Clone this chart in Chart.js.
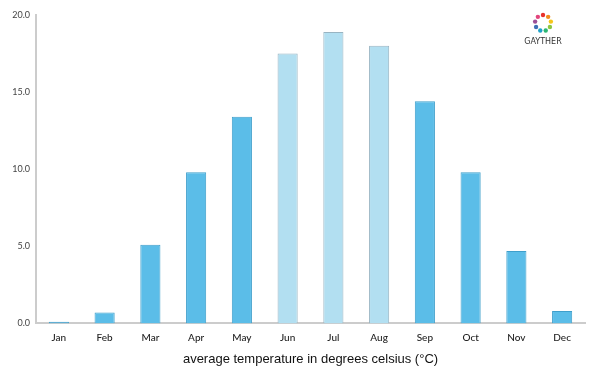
<!DOCTYPE html>
<html>
<head>
<meta charset="utf-8">
<script src="https://cdn.jsdelivr.net/npm/chart.js@4"></script>
<style>
  html, body { margin: 0; padding: 0; background: #fff; }
  #wrap { width: 600px; height: 375px; position: relative; }
</style>
</head>
<body>
<div id="wrap"><canvas id="tempChart"></canvas></div>
<script>
// Average monthly temperature
const months = ['Jan', 'Feb', 'Mar', 'Apr', 'May', 'Jun', 'Jul', 'Aug', 'Sep', 'Oct', 'Nov', 'Dec'];
const avgTemp = [0.1, 0.7, 5.1, 9.8, 13.4, 17.5, 18.9, 18.0, 14.4, 9.8, 4.7, 0.8];
const summerMonths = ['Jun', 'Jul', 'Aug'];
const yTicks = [0, 5, 10, 15, 20];

const colors = {
  bar: '#5bbde8',
  barBorder: '#3f9fcb',
  summer: '#b2dff1',
  summerBorder: '#98b4c2',
  axis: '#cccccc',
  text: '#222222'
};

const isSummer = (m) => summerMonths.includes(m);

// little logo in the top right corner
const logoPlugin = {
  id: 'logo',
  afterDraw(chart) {
    const ctx = chart.ctx;
    const cx = 543, cy = 23, r = 8;
    const dots = ['#e8322b', '#f28c1e', '#f5c518', '#8cc63f', '#2bb673', '#1fa3c8', '#3e6fb6', '#9b4f96', '#e2447c'];
    ctx.save();
    dots.forEach((c, i) => {
      const a = (i / dots.length) * Math.PI * 2 - Math.PI / 2;
      ctx.fillStyle = c;
      ctx.beginPath();
      ctx.arc(cx + Math.cos(a) * r, cy + Math.sin(a) * r, 2.2, 0, Math.PI * 2);
      ctx.fill();
    });
    ctx.fillStyle = '#333';
    ctx.font = '8px "DejaVu Sans", sans-serif';
    ctx.textAlign = 'center';
    ctx.textBaseline = 'middle';
    ctx.fillText('GAYTHER', cx, 42);
    ctx.restore();
  }
};

new Chart(document.getElementById('tempChart').getContext('2d'), {
  type: 'bar',
  data: {
    labels: months,
    datasets: [{
      label: 'Average temperature',
      data: avgTemp,
      backgroundColor: months.map(m => isSummer(m) ? colors.summer : colors.bar),
      borderColor: months.map(m => isSummer(m) ? colors.summerBorder : colors.barBorder),
      borderWidth: 1,
      barPercentage: 0.44,
      categoryPercentage: 1
    }]
  },
  options: {
    responsive: true,
    maintainAspectRatio: false,
    animation: false,
    layout: { padding: { top: 15, right: 15, bottom: 0, left: 0 } },
    scales: {
      x: {
        grid: { display: false, drawTicks: false },
        border: { color: colors.axis, width: 2 },
        ticks: { color: colors.text, padding: 8, font: { family: 'Lato', size: 10, weight: '500' } },
        title: {
          display: true,
          text: 'average temperature in degrees celsius (°C)',
          color: '#111',
          font: { family: 'Liberation Sans', size: 13 },
          padding: { top: 0, bottom: 8 }
        }
      },
      y: {
        min: 0,
        max: 20,
        afterFit: (scale) => { scale.width = 36; },
        afterBuildTicks: (scale) => { scale.ticks = yTicks.map(v => ({ value: v })); },
        grid: { display: false, drawTicks: false },
        border: { color: colors.axis, width: 2 },
        ticks: {
          color: '#444',
          padding: 6,
          font: { family: 'Lato', size: 9 },
          callback: (v) => Number(v).toFixed(1)
        }
      }
    },
    plugins: {
      legend: { display: false },
      tooltip: { enabled: false }
    }
  },
  plugins: [logoPlugin]
});
</script>
</body>
</html>
